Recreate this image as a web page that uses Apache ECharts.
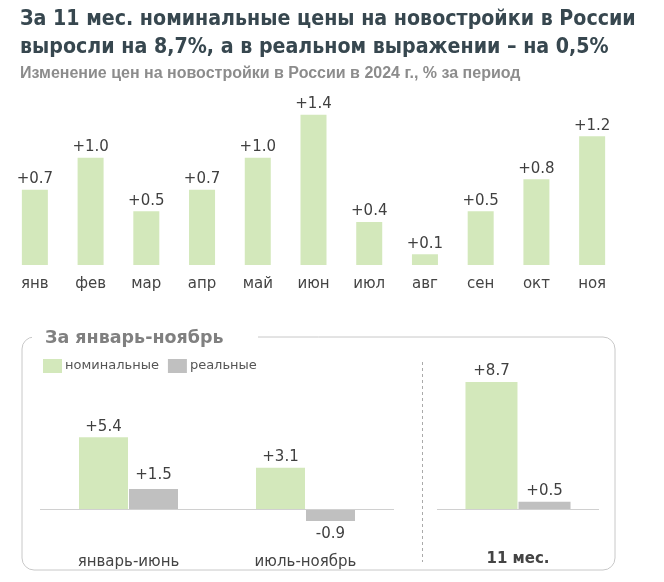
<!DOCTYPE html>
<html>
<head>
<meta charset="utf-8">
<script src="https://cdn.jsdelivr.net/npm/echarts@6/dist/echarts.min.js"></script>
<style>
  html, body { margin: 0; padding: 0; background: #fff; }
  #chart { width: 664px; height: 582px; }
</style>
</head>
<body>
<div id="chart"></div>
<script>
// monthly change, 2024
const months = ['янв', 'фев', 'мар', 'апр', 'май', 'июн', 'июл', 'авг', 'сен', 'окт', 'ноя'];
const monthly = [0.7, 1.0, 0.5, 0.7, 1.0, 1.4, 0.4, 0.1, 0.5, 0.8, 1.2];

// half-year periods
const periods = ['январь-июнь', 'июль-ноябрь'];
const periodNominal = [5.4, 3.1];
const periodReal = [1.5, -0.9];

// whole period
const total = ['11 мес.'];
const totalNominal = [8.7];
const totalReal = [0.5];

const GREEN = '#d3e8bb';
const GREY = '#c0c0c0';
const FONT = 'DejaVu Sans';

const fmt = (v) => (v > 0 ? '+' : '') + v.toFixed(1);

const labelStyle = {
  show: true,
  color: '#404040',
  fontFamily: FONT,
  fontSize: 15,
  formatter: (p) => fmt(p.value),
};

// zero line for the lower panels
const zeroLine = {
  silent: true,
  symbol: 'none',
  label: { show: false },
  lineStyle: { color: '#d0d0d0', type: 'solid', width: 1 },
  data: [{ yAxis: 0 }],
};

const chart = echarts.init(document.getElementById('chart'));

const option = {
  animation: false,
  title: [
    {
      text: 'За 11 мес. номинальные цены на новостройки в России\nвыросли на 8,7%, а в реальном выражении – на 0,5%',
      left: 20,
      top: 5,
      padding: 0,
      textStyle: { color: '#37474f', fontFamily: 'DejaVu Sans Condensed', fontWeight: 'bold', fontSize: 21.2, lineHeight: 28 },
    },
    {
      text: 'Изменение цен на новостройки в России в 2024 г., % за период',
      left: 20,
      top: 66,
      padding: 0,
      textStyle: { color: '#8c8c8c', fontFamily: 'Liberation Sans Narrow, Liberation Sans', fontWeight: 'bold', fontSize: 16 },
    },
  ],
  legend: {
    data: ['номинальные', 'реальные'],
    left: 43,
    top: 359,
    padding: 0,
    itemWidth: 19,
    itemHeight: 14,
    itemGap: 9,
    icon: 'rect',
    textStyle: { color: '#555', fontFamily: FONT, fontSize: 13, padding: [0, 0, 0, -2] },
    selectedMode: false,
  },
  graphic: [
    {
      type: 'rect',
      shape: { x: 22, y: 337, width: 593, height: 233, r: 12 },
      style: { fill: 'none', stroke: '#c8c8c8', lineWidth: 1 },
      z: 0,
    },
    {
      type: 'rect',
      shape: { x: 32, y: 326, width: 226, height: 22 },
      style: { fill: '#fff' },
      z: 1,
    },
    {
      type: 'text',
      x: 45,
      y: 338,
      style: { text: 'За январь-ноябрь', fill: '#808080', font: 'bold 17.5px DejaVu Sans', textVerticalAlign: 'middle' },
      z: 2,
    },
    {
      type: 'line',
      shape: { x1: 422.5, y1: 362, x2: 422.5, y2: 562 },
      style: { stroke: '#aaa', lineWidth: 1, lineDash: [3, 3] },
      z: 2,
    },
  ],
  grid: [
    { left: 7, width: 613, top: 104, height: 161, outerBoundsMode: 'none' },
    { left: 40, width: 354, top: 402.6, height: 142.3, outerBoundsMode: 'none' },
    { left: 437, width: 162, top: 363, height: 182.5, outerBoundsMode: 'none' },
  ],
  xAxis: [
    {
      gridIndex: 0, type: 'category', data: months,
      axisLine: { show: false }, axisTick: { show: false },
      axisLabel: { color: '#444', fontFamily: FONT, fontSize: 15, margin: 12 },
    },
    {
      gridIndex: 1, type: 'category', data: periods,
      axisLine: { show: false, onZero: false }, axisTick: { show: false },
      axisLabel: { color: '#444', fontFamily: FONT, fontSize: 15, margin: 10 },
    },
    {
      gridIndex: 2, type: 'category', data: total,
      axisLine: { show: false, onZero: false }, axisTick: { show: false },
      axisLabel: { color: '#444', fontFamily: FONT, fontSize: 15, fontWeight: 'bold', margin: 6 },
    },
  ],
  yAxis: [
    { gridIndex: 0, type: 'value', min: 0, max: 1.5, show: false },
    { gridIndex: 1, type: 'value', min: -2.7, max: 8, show: false },
    { gridIndex: 2, type: 'value', min: -2.5, max: 10, show: false },
  ],
  series: [
    {
      type: 'bar', xAxisIndex: 0, yAxisIndex: 0, data: monthly,
      barWidth: 26, itemStyle: { color: GREEN },
      label: Object.assign({ position: 'top', distance: 3 }, labelStyle),
    },
    {
      name: 'номинальные', type: 'bar', xAxisIndex: 1, yAxisIndex: 1, data: periodNominal,
      barWidth: 49, barGap: '2%', itemStyle: { color: GREEN },
      label: Object.assign({ position: 'top', distance: 3 }, labelStyle),
      markLine: zeroLine,
    },
    {
      name: 'реальные', type: 'bar', xAxisIndex: 1, yAxisIndex: 1, data: periodReal,
      barWidth: 49, barGap: '2%', itemStyle: { color: GREY },
      label: Object.assign({ position: 'outside', distance: 6 }, labelStyle),
    },
    {
      name: 'номинальные', type: 'bar', xAxisIndex: 2, yAxisIndex: 2, data: totalNominal,
      barWidth: 52, barGap: '2%', itemStyle: { color: GREEN },
      label: Object.assign({ position: 'top', distance: 3 }, labelStyle),
      markLine: zeroLine,
    },
    {
      name: 'реальные', type: 'bar', xAxisIndex: 2, yAxisIndex: 2, data: totalReal,
      barWidth: 52, barGap: '2%', itemStyle: { color: GREY },
      label: Object.assign({ position: 'top', distance: 3 }, labelStyle),
    },
  ],
};

chart.setOption(option);
</script>
</body>
</html>
